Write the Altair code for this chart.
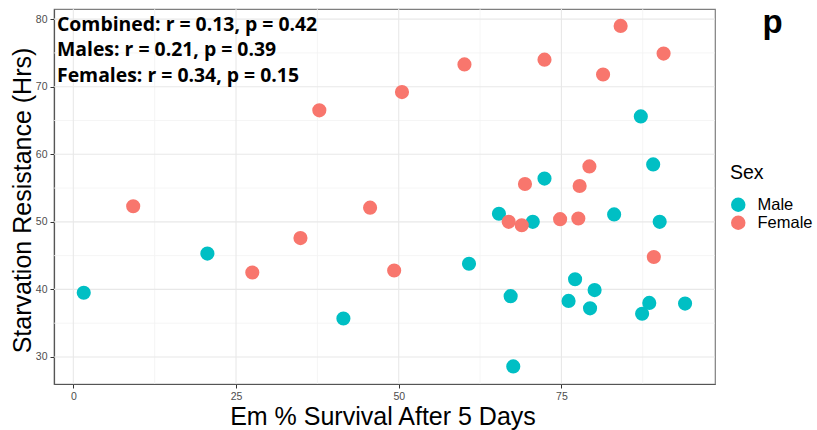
import altair as alt
import pandas as pd

male_x = [1.6, 20.6, 41.5, 60.8, 65.4, 70.6, 67.2, 67.6, 72.4, 83.1, 90.1, 87.2, 89.1, 77.1, 80.1, 76.1, 79.4, 88.5, 87.4, 94.0]
male_y = [39.5, 45.3, 35.7, 43.8, 51.2, 50.0, 39.0, 28.6, 56.4, 51.1, 50.0, 65.6, 58.5, 41.5, 39.9, 38.3, 37.2, 38.0, 36.4, 37.9]
female_x = [9.2, 27.5, 34.9, 45.6, 49.3, 37.8, 50.5, 60.1, 72.4, 84.1, 90.7, 81.4, 79.3, 77.8, 69.4, 66.9, 68.9, 74.8, 77.6, 89.2]
female_y = [52.3, 42.5, 47.6, 52.1, 42.8, 66.5, 69.2, 73.3, 74.0, 79.0, 74.9, 71.8, 58.2, 55.3, 55.6, 50.0, 49.5, 50.4, 50.5, 44.8]

x_major = [0, 25, 50, 75]
x_minor = [12.5, 37.5, 62.5, 87.5]
y_major = [30, 40, 50, 60, 70, 80]
y_minor = [35, 45, 55, 65, 75]

stats_lines = ["Combined: r = 0.13, p = 0.42", "Males: r = 0.21, p = 0.39", "Females: r = 0.34, p = 0.15"]
panel_label = "p"

df = pd.DataFrame({
    "x": male_x + female_x,
    "y": male_y + female_y,
    "Sex": ["Male"] * len(male_x) + ["Female"] * len(female_x),
})

W, H = 661, 375
PL, PT = 54, 9
xs = alt.Scale(domain=[-2.97, 98.6], nice=False, zero=False)
ys = alt.Scale(domain=[26.0, 81.5], nice=False, zero=False)

x_axis = alt.Axis(
    title="Em % Survival After 5 Days", values=x_major, grid=False,
    titleFont="Liberation Sans", titleFontSize=25, titleFontWeight="normal", titleColor="#000000",
    titleX=W / 2 - 2, titleY=40, titleBaseline="alphabetic", titleAnchor="middle", titleAlign="center",
    labelFont="Liberation Sans", labelFontSize=10.5, labelColor="#4D4D4D", labelPadding=3,
    tickColor="#333333", tickSize=4, domainColor="#555555", domainWidth=1.2)
y_axis = alt.Axis(
    title="Starvation Resistance (Hrs)", values=y_major, grid=False,
    titleFont="Liberation Sans", titleFontSize=25, titleFontWeight="normal", titleColor="#000000",
    titleAngle=-90, titleX=-32, titleY=191, titleBaseline="middle", titleAlign="center", titleAnchor="middle",
    labelFont="Liberation Sans", labelFontSize=10.5, labelColor="#4D4D4D", labelPadding=3,
    tickColor="#333333", tickSize=4, domainColor="#555555", domainWidth=1.2)

grid_minor_x = alt.Chart(pd.DataFrame({"v": x_minor})).mark_rule(color="#F2F2F2", strokeWidth=0.8).encode(
    x=alt.X("v:Q", scale=xs, axis=x_axis))
grid_minor_y = alt.Chart(pd.DataFrame({"v": y_minor})).mark_rule(color="#F2F2F2", strokeWidth=0.8).encode(
    y=alt.Y("v:Q", scale=ys, axis=y_axis))
grid_major_x = alt.Chart(pd.DataFrame({"v": x_major})).mark_rule(color="#E8E8E8", strokeWidth=1.1).encode(
    x=alt.X("v:Q", scale=xs, axis=x_axis))
grid_major_y = alt.Chart(pd.DataFrame({"v": y_major})).mark_rule(color="#E8E8E8", strokeWidth=1.1).encode(
    y=alt.Y("v:Q", scale=ys, axis=y_axis))

points = alt.Chart(df).mark_circle(size=200, opacity=1).encode(
    x=alt.X("x:Q", scale=xs, axis=x_axis),
    y=alt.Y("y:Q", scale=ys, axis=y_axis),
    color=alt.Color("Sex:N", scale=alt.Scale(domain=["Male", "Female"], range=["#00BFC4", "#F8766D"]),
                    legend=alt.Legend(orient="none", legendX=676, legendY=155, title="Sex",
                                      titleFont="Liberation Sans", titleFontSize=19.5, titleFontWeight="normal",
                                      titleColor="#000000", titlePadding=13,
                                      labelFont="Liberation Sans", labelFontSize=16.5, labelColor="#000000",
                                      symbolSize=210, symbolType="circle", symbolStrokeWidth=0,
                                      rowPadding=1, labelOffset=11)),
)

ann = alt.Chart(pd.DataFrame({"t": ["\n".join(stats_lines)]})).mark_text(
    align="left", baseline="alphabetic", font="Open Sans", fontWeight="bold",
    fontSize=19.4, color="#000000", lineBreak="\n", lineHeight=25.3).encode(
    x=alt.value(3), y=alt.value(22), text="t:N")

plabel = alt.Chart(pd.DataFrame({"t": [panel_label]})).mark_text(
    align="center", baseline="alphabetic", font="Liberation Sans", fontWeight="bold",
    fontSize=33, color="#000000").encode(x=alt.value(718.5), y=alt.value(24), text="t:N")

chart = alt.layer(grid_minor_x, grid_minor_y, grid_major_x, grid_major_y, points, ann, plabel).properties(
    width=W, height=H,
    autosize=alt.AutoSizeParams(type="none"),
    padding={"left": PL, "top": PT, "right": 817 - PL - W, "bottom": 430 - PT - H},
    background="#FFFFFF",
).configure_view(stroke="#7F7F7F", strokeWidth=1.2)

chart.save("out.html", embed_options={"renderer": "svg", "actions": False})
